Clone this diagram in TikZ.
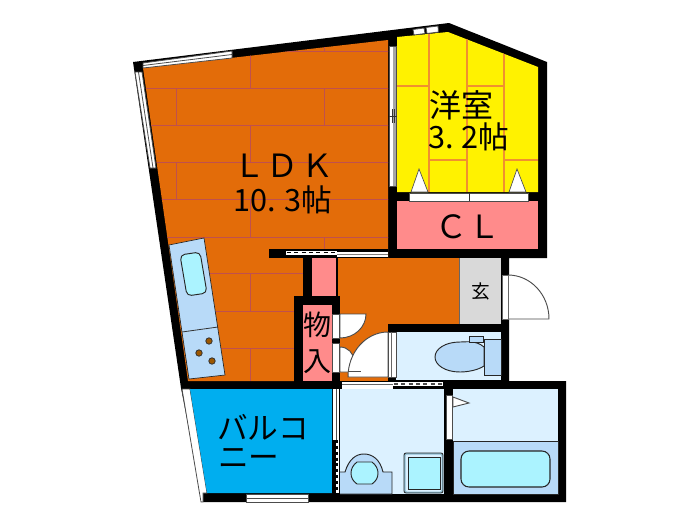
\documentclass[tikz,border=0pt]{standalone}
\usepackage{fontspec}
\newfontfamily\jp{Noto Sans CJK JP}
\definecolor{floorO}{HTML}{E36C09}
\definecolor{floorL}{HTML}{C0504D}
\definecolor{tatami}{HTML}{F09030}
\definecolor{pinkR}{HTML}{FF8B8B}
\definecolor{wet}{HTML}{DCF1FF}
\definecolor{fixt}{HTML}{B8DAF8}
\definecolor{water}{HTML}{ABF3FF}
\definecolor{balc}{HTML}{00AEEF}
\definecolor{genk}{HTML}{D9D9D9}
\definecolor{burn}{HTML}{9C5700}
\definecolor{wm}{HTML}{8FBCD0}
\tikzset{
  wall/.style={fill=black,draw=none},
  floorline/.style={floorL,line width=0.75pt},
  tatamiline/.style={tatami,line width=0.9pt},
  thin/.style={line width=0.6pt,draw=black!80},
  fixture/.style={fill=fixt,draw=black!85,line width=0.7pt},
  win/.style={fill=white,draw=black!70,line width=0.6pt},
  door/.style={fill=white,draw=black!70,line width=0.7pt},
  lbl/.style={font=\jp\fontsize{24}{26}\selectfont,inner sep=0pt,text=black},
}
\begin{document}
\begin{tikzpicture}[x=0.75pt,y=-0.75pt]
\useasboundingbox (0,0) rectangle (700,525);
% building mass
\fill[wall] (133,62)--(449,23)--(547,62)--(547,258)--(509,258)--(509,381)--(566,381)--(566,502)--(203,502)--(181,388)--cycle;
% balcony outer strip
\filldraw[fill=white,draw=black!70,line width=0.6pt] (182,389)--(190,389)--(207,493)--(203,493)--(203,502)--(201,502)--cycle;
% LDK
\fill[floorO] (143,68)--(388,40)--(388,258)--(303,258)--(303,296)--(294,296)--(294,381)--(188,381)--cycle;
\begin{scope}
\clip (143,68)--(388,40)--(388,258)--(303,258)--(303,296)--(294,296)--(294,381)--(188,381)--cycle;
\foreach \yy in {51,88,125,162,199,237,273,311,348}
  \draw[floorline] (130,\yy)--(390,\yy);
\draw[floorline] (324,40)--(324,51) (250,51)--(250,88) (176,88)--(176,125) (324,88)--(324,125)
  (250,125)--(250,162) (176,162)--(176,199) (250,199)--(250,237)
  (324,237)--(324,258) (250,273)--(250,311)
  (250,348)--(250,381);
\end{scope}
% yellow room
\fill[yellow] (397,37)--(448,32)--(538,67)--(538,192)--(397,192)--cycle;
\begin{scope}
\clip (397,37)--(448,32)--(538,67)--(538,192)--(397,192)--cycle;
\draw[tatamiline] (429,30)--(429,192) (467,30)--(467,192) (504,30)--(504,192)
  (397,86)--(429,86) (467,86)--(504,86) (429,160)--(467,160) (504,160)--(538,160);
\end{scope}
\filldraw[door,line width=0.5pt] (411,192)--(419,169)--(428,192)--cycle;
\filldraw[door,line width=0.5pt] (509,192)--(517,169)--(526,192)--cycle;
% top small window
\filldraw[win] (413,29.5)--(424,28)--(425,33.5)--(414,35)--cycle;
\filldraw[win] (426,27.5)--(438,26)--(438.5,32)--(427,33.5)--cycle;
% closet
\fill[pinkR] (397,201) rectangle (538,249);
\filldraw[win] (409,193) rectangle (528,201);
\draw[thin] (469,193)--(469,201);
% sliding door LDK / room
\fill[white] (389,46) rectangle (393,186);
\fill[black!35] (393,46) rectangle (396.5,186);
\draw[black!70,line width=0.6pt] (389,46) rectangle (396.5,186);
\draw[black!80,line width=0.6pt] (389,116)--(396.5,116) (392,109)--(392,123) (394.5,109)--(394.5,123);
% windows LDK
\filldraw[win] (143,63)--(232,51)--(232,58)--(143,68)--cycle;
\draw[black!70,line width=0.6pt] (143,65.5)--(232,54.5);
\filldraw[win] (135,72)--(142,72)--(156,168)--(150,168)--cycle;
\draw[black!70,line width=0.6pt] (138.5,72)--(153,168);
% kitchen
\filldraw[fixture,line width=0.5pt] (169,245)--(204,238)--(225,375)--(189,379)--cycle;
\draw[thin] (182,332)--(218,327);
\filldraw[fill=water,draw=black!85,line width=0.7pt,rounded corners=3.5pt] (180,255)--(200,252)--(207,293)--(187,296)--cycle;
\foreach \cx/\cy/\nn in {209/341/a,199/353/b,212/361/c}
  \filldraw[fill=burn,draw=black!80,line width=0.6pt] (\cx,\cy) circle (3.2);
% inner partition pieces
\fill[wall] (269,249) rectangle (388,258);
\fill[wall] (303,258) rectangle (312,296);
\fill[wall] (294,296) rectangle (340,388);
\fill[pinkR] (312,258) rectangle (336,296);
\fill[wall] (336,258) rectangle (337.5,296);
\fill[white] (286,250.5) rectangle (337,254.5);
\draw[black,line width=1.4pt,dash pattern=on 3pt off 2.5pt] (287,252.5)--(337,252.5);
\fill[white] (337,252) rectangle (388,256.5);
\draw[black!50,line width=0.5pt] (337,254)--(388,254);
% corridor
\fill[floorO] (340,258) rectangle (459,324);
\fill[floorO] (337.5,258) rectangle (340,296);
\fill[floorO] (340,324) rectangle (388,381);
\fill[wall] (388,324) rectangle (396,332);
\fill[wall] (388,377) rectangle (396,381);
% genkan
\fill[genk] (459,258) rectangle (501,324);
\draw[black!60,line width=0.5pt] (459,258)--(459,324);
% storage
\fill[pinkR] (303,305) rectangle (332,381);
\fill[white] (332,314) rectangle (339,338);
\fill[white] (332,343) rectangle (339,372);
\draw[black!70,line width=0.5pt] (332,314) rectangle (339,338) (332,343) rectangle (339,372);
\filldraw[door] (340,314)--(366,314) arc (0:90:26 and 24)--cycle;
\filldraw[door] (340,347) arc (-90:0:14 and 14) -- (354,372)--(340,372)--cycle;
% toilet
\fill[wet] (396,332) rectangle (501,380);
\filldraw[door] (388,377)--(348,377) arc (180:270:40 and 45)--cycle;
\draw[black!70,line width=0.6pt] (348,371)--(361,371);
\filldraw[win] (388,332) rectangle (396,377);
\draw[black!60,line width=0.5pt] (391,332)--(391,377);
\filldraw[fill=fixt,draw=black!85,line width=0.7pt] (484,347) .. controls (476,340) and (466,342) .. (460,342) .. controls (445,342) and (435,349) .. (435,357) .. controls (435,365) and (445,372) .. (460,372) .. controls (468,372) and (478,370) .. (484,366)--cycle;
\filldraw[fixture,line width=0.6pt] (484,339) rectangle (501,375);
\filldraw[fixture,line width=0.6pt] (469,336) rectangle (483,342);
% entrance door
\filldraw[door] (508,319)--(508,275) arc (-90:0:41 and 44)--cycle;
\fill[white] (502,275) rectangle (508,319);
\draw[black!60,line width=0.5pt] (502,275) rectangle (508,319);
% strip below corridor
\fill[white] (342,382) rectangle (443,388.5);
\fill[wall] (393,386) rectangle (443,389);
\draw[black!60,line width=0.5pt] (342,384.5)--(393,384.5);
\draw[black!70,line width=1.2pt,dash pattern=on 3pt off 2.5pt] (394,384)--(443,384);
% balcony
\fill[balc] (190,389)--(332,389)--(332,493)--(207,493)--cycle;
\filldraw[win] (246,494) rectangle (308,502);
\draw[black!70,line width=0.6pt] (246,498)--(308,498);
% balcony / wash window
\fill[white] (332.5,389) rectangle (338.5,493);
\fill[wall] (332,440) rectangle (335.5,493);
\draw[black,line width=1pt,dash pattern=on 2.2pt off 2.2pt] (337,440)--(337,493);
\draw[black!70,line width=0.5pt] (336,389)--(336,440);
% wash room
\fill[wet] (340,389) rectangle (444,494);
\filldraw[fixture] (340,472)--(345,472) .. controls (349,459) and (356,454) .. (364,454) .. controls (372,454) and (380,459) .. (383,472)--(392,472)--(392,494)--(340,494);
\filldraw[fill=water,draw=black!85,line width=0.7pt] (357,462)--(372,462) .. controls (376,465) and (378,469) .. (378,473) .. controls (378,478) and (376,481) .. (372,484)--(357,484) .. controls (353,481) and (351,478) .. (351,473) .. controls (351,469) and (353,465) .. (357,462)--cycle;
\filldraw[fill=wm,draw=black!85,line width=0.6pt,rounded corners=1.5pt] (404,453) rectangle (443,493);
\filldraw[fill=wet,draw=none,rounded corners=1pt] (405.5,454.5) rectangle (441.5,491.5);
\filldraw[fill=water,draw=black!85,line width=0.7pt] (408,457) rectangle (440,489);
% bath room
\fill[wet] (453,389) rectangle (558,494);
\filldraw[fixture] (453,441) rectangle (558,494);
\filldraw[fill=water,draw=black!85,line width=0.8pt,rounded corners=6pt] (461,451) rectangle (550,487);
\filldraw[win] (446,395) rectangle (452,439);
\filldraw[door] (453,397)--(469,403)--(453,407)--cycle;
% labels
\node[lbl] (ldk) at (283,166) {Ｌ\kern1.5ptＤ\kern1.5ptＫ};
\node[lbl,font=\jp\fontsize{23}{26}\selectfont] (ldkarea) at (283,200) {10.\kern6pt 3帖};
\node[lbl] (room) at (461,105) {洋室};
\node[lbl,font=\jp\fontsize{23}{26}\selectfont] (roomarea) at (469,137) {3.\kern6pt 2帖};
\node[lbl] (cl) at (468,227) {Ｃ\kern1.5ptＬ};
\node[lbl,font=\jp\fontsize{21}{24}\selectfont] (mono) at (317.5,325) {物};
\node[lbl,font=\jp\fontsize{21}{24}\selectfont] (iri) at (317.5,362) {入};
\node[lbl,font=\jp\fontsize{14}{16}\selectfont] (gen) at (481,291) {玄};
\node[lbl,font=\jp\fontsize{23}{25}\selectfont] (balA) at (263,427) {バルコ};
\node[lbl,font=\jp\fontsize{23}{25}\selectfont,anchor=west] (balB) at (218,459) {ニー};
\end{tikzpicture}
\end{document}
